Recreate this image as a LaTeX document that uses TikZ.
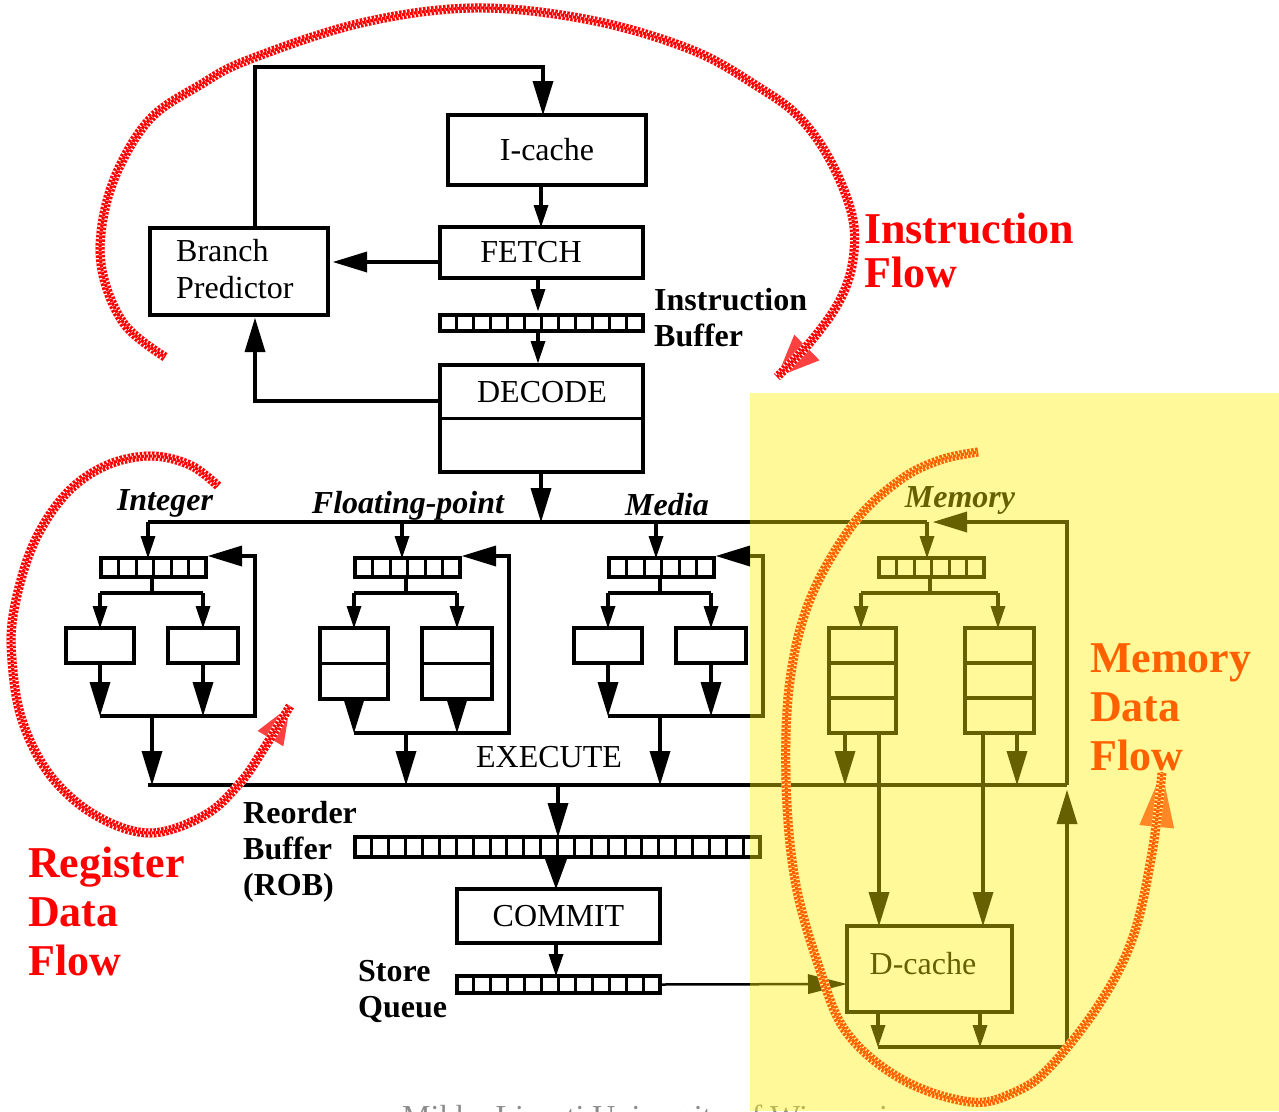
\documentclass[tikz,border=0pt]{standalone}
\usepackage{fontspec}
\setmainfont{Liberation Serif}
\usetikzlibrary{arrows.meta,calc}

\definecolor{flowred}{RGB}{255,0,0}
\definecolor{footgray}{RGB}{140,140,140}

% vertical dividers of a queue drawn as a row of cells
\newcommand\cellrow[2]{%
  \pgfmathtruncatemacro\cellcnt{#2-1}%
  \foreach \k in {1,...,\cellcnt}{%
    \draw[cellwire] ($(#1.north west)!{\k/#2}!(#1.north east)$) -- ($(#1.south west)!{\k/#2}!(#1.south east)$);}%
}
% horizontal dividers of a pipelined unit
\newcommand\cellstack[2]{%
  \ifnum#2>1
  \pgfmathtruncatemacro\cellcnt{#2-1}%
  \foreach \k in {1,...,\cellcnt}{%
    \draw[wire] ($(#1.north west)!{\k/#2}!(#1.south west)$) -- ($(#1.north east)!{\k/#2}!(#1.south east)$);}%
  \fi
}
% one issue queue with two functional units and a result loop
\newcommand\issuecluster[5]{%
  \begin{scope}[xshift=#2]
    \coordinate (#1in) at (148,522);
    \node[box, minimum width=105, minimum height=19] (#1q) at (153.5,567.5) {};
    \cellrow{#1q}{6}
    \coordinate (#1s) at (152,593);
    \coordinate (#1sl) at (100,593);
    \coordinate (#1sr) at (203,593);
    \node[box, minimum width=68, minimum height=#4, anchor=north] (#1ua) at (100,628) {};
    \node[box, minimum width=70, minimum height=#4, anchor=north] (#1ub) at (203,628) {};
    \cellstack{#1ua}{#3}
    \cellstack{#1ub}{#3}
    \coordinate (#1j) at (152,#5);
    \coordinate (#1jr) at (255,#5);
    \coordinate (#1fb) at (255,556);
    \coordinate (#1out) at (152,785);
    \draw[sa] (#1in) -- (#1in |- #1q.north);
    \draw[wire] (#1q.south -| #1s) -- (#1s);
    \draw[wire] (#1sl) -- (#1sr);
    \draw[sa] (#1sl) -- (#1ua.north);
    \draw[sa] (#1sr) -- (#1ub.north);
    \draw[la] (#1ua.south) -- (#1ua.south |- #1j);
    \draw[la] (#1ub.south) -- (#1ub.south |- #1j);
    \draw[la, shorten >=2pt] (#1ua.south |- #1j) -- (#1jr) -- (#1fb) -- (#1q.east |- #1fb);
    \draw[la] (#1j) -- (#1out);
  \end{scope}}

\begin{document}
\begin{tikzpicture}[x=1pt,y=-1pt,
  wire/.style={line width=3.5pt},
  cellwire/.style={line width=3pt},
  box/.style={draw, line width=3.5pt, rectangle, inner sep=0pt, outer sep=0pt,
    font=\fontsize{32}{36}\selectfont},
  sa/.style={wire, -{Triangle[length=22pt,width=15pt,line width=0pt]}},
  la/.style={wire, -{Triangle[length=34pt,width=21pt,line width=0pt]}},
  lbl/.style={inner sep=0pt, font=\fontsize{32}{37}\selectfont},
  blbl/.style={inner sep=0pt, align=left, font=\fontsize{32}{36}\selectfont\bfseries},
  ilbl/.style={inner sep=0pt, font=\fontsize{32}{36}\selectfont\bfseries\itshape},
  biglbl/.style={inner sep=0pt, align=left, text=red, font=\fontsize{44}{44}\selectfont\bfseries},
  % dithered red band: solid base with a two-row checker texture on top
  flowband/.style={line width=9pt, draw=flowred!75!white, line cap=butt, line join=round,
    postaction={-, draw=white, line width=9pt, line cap=butt},
    postaction={-, draw=flowred, line width=9pt, line cap=butt, dash pattern=on 2.5pt off 1.5pt},
    postaction={-, draw=white, line width=3pt, line cap=butt, dash pattern=on 1.5pt off 2.5pt, dash phase=2.5pt},
    postaction={-, draw=flowred, line width=3pt, line cap=butt, dash pattern=on 2.5pt off 1.5pt, dash phase=2pt}}]
\useasboundingbox (0,0) rectangle (1279,1111);
\begin{scope}
\clip (0,0) rectangle (1279,1111);
\fill[white] (0,0) rectangle (1279,1111);

% ---------- front end ----------
\node[box, minimum width=198, minimum height=70] (icache) at (547,150) {I-cache};
\node[box, minimum width=203, minimum height=51] (fetch) at (541.5,252.5) {};
\node[lbl] (tfetch) at (531,252.5) {FETCH};
\node[box, minimum width=178, minimum height=87] (bp) at (239,271.5) {};
\node[lbl, align=left, anchor=west] (tbp) at (176,269) {Branch\\Predictor};
\node[box, minimum width=203, minimum height=16] (ibuf) at (541.5,323) {};
\cellrow{ibuf}{12}
\node[blbl, anchor=west] (tibuf) at (654,318) {Instruction\\Buffer};
\node[box, minimum width=203, minimum height=107] (decode) at (541.5,418.5) {};
\draw[wire] (decode.west) -- (decode.east);
\node[lbl] (tdecode) at (542,392) {DECODE};

\coordinate (loopA) at (255,67);
\coordinate (loopB) at (543,67);
\coordinate (spine) at (541,0);
\coordinate (spineb) at (538,0);
\coordinate (fbk) at (0,262);
\coordinate (dbk) at (0,401);
\coordinate (dL) at (148,522);
\coordinate (dR) at (927,522);

\draw[la] (bp.north -| loopA) -- (loopA) -- (loopB) -- (loopB |- icache.north);
\draw[sa] (icache.south -| spine) -- (fetch.north -| spine);
\draw[la, shorten >=5pt] (fetch.west |- fbk) -- (bp.east |- fbk);
\draw[sa, shorten >=4pt] (fetch.south -| spineb) -- (ibuf.north -| spineb);
\draw[sa, shorten >=2pt] (ibuf.south -| spineb) -- (decode.north -| spineb);
\draw[la, shorten >=3pt] (decode.west |- dbk) -| (bp.south -| loopA);
\draw[la] (decode.south -| spine) -- (spine |- dL);

% ---------- dispatch and issue ----------
\draw[wire] (dL) -- (dR);
\issuecluster{int}{0}{1}{35}{716}
\issuecluster{fp}{254}{2}{71}{733}
\issuecluster{med}{508}{1}{35}{716}

\node[ilbl, anchor=base] (lint) at (165,510) {Integer};
\node[ilbl, anchor=base] (lfp) at (408,513) {Floating-point};
\node[ilbl, anchor=base] (lmed) at (667,515) {Media};
\node[ilbl, anchor=base] (lmem) at (960,507) {Memory};

% result bus
\coordinate (busL) at (148,785);
\coordinate (busR) at (1067,785);
\coordinate (mfb) at (1067,522);
\coordinate (mtip) at (933,522);
\draw[wire] (busL) -- (busR);
\draw[la] (busR) -- (mfb) -- (mtip);
\node[lbl] (texec) at (549,757) {EXECUTE};

% memory pipe
\coordinate (memin) at (927,522);
\node[box, minimum width=105, minimum height=19] (mq) at (931.5,567.5) {};
\cellrow{mq}{6}
\coordinate (ms) at (930,593);
\coordinate (msl) at (861,593);
\coordinate (msr) at (998,593);
\node[box, minimum width=67, minimum height=105, anchor=north] (mua) at (862.5,628) {};
\node[box, minimum width=69, minimum height=105, anchor=north] (mub) at (999.5,628) {};
\cellstack{mua}{3}
\cellstack{mub}{3}
\draw[sa] (memin) -- (memin |- mq.north);
\draw[wire] (mq.south -| ms) -- (ms);
\draw[wire] (msl) -- (msr);
\draw[sa] (msl) -- (msl |- mua.north);
\draw[sa] (msr) -- (msr |- mub.north);

\node[box, minimum width=165, minimum height=86] (dcache) at (929.5,969) {};
\node[lbl] (tdcache) at (923,964) {D-cache};
\coordinate (mo1) at (845,0);
\coordinate (md1) at (879,0);
\coordinate (md2) at (983,0);
\coordinate (mo2) at (1017,0);
\draw[la] (mua.south -| mo1) -- (mo1 |- busL);
\draw[la] (mua.south -| md1) -- (md1 |- dcache.north);
\draw[la] (mub.south -| md2) -- (md2 |- dcache.north);
\draw[la] (mub.south -| mo2) -- (mo2 |- busL);

\coordinate (dja) at (878,1047);
\coordinate (djb) at (980,1047);
\coordinate (djr) at (1067,1047);
\coordinate (dup) at (1067,790);
\draw[sa] (dcache.south -| dja) -- (dja);
\draw[sa] (dcache.south -| djb) -- (djb);
\draw[la] (dja) -- (djr) -- (dup);

% ---------- retire ----------
\coordinate (robin) at (558,785);
\coordinate (cx) at (556,0);
\node[box, minimum width=405, minimum height=20] (rob) at (557.5,847) {};
\cellrow{rob}{24}
\node[blbl, anchor=west] (trob) at (243,852) {Reorder\\Buffer\\(ROB)};
\node[box, minimum width=203, minimum height=54] (commit) at (558.5,916) {COMMIT};
\node[box, minimum width=203, minimum height=17] (sq) at (558.5,984.5) {};
\cellrow{sq}{12}
\node[blbl, anchor=west] (tsq) at (358,991) {Store\\Queue};
\draw[la] (robin) -- (robin |- rob.north);
\draw[wire, -{Triangle[length=30pt,width=22pt,line width=0pt]}] (rob.south -| cx) -- (commit.north -| cx);
\draw[sa] (commit.south -| cx) -- (sq.north -| cx);
\draw[line width=2.5pt, -{Triangle[length=39pt,width=20pt,line width=0pt]}] (sq.east) -- ($(dcache.west)+(0,15)$);

% ---------- flow arrows ----------
\draw[flowband, -{Triangle[length=42pt,width=36pt,line width=0pt]}] plot[smooth, tension=0.6] coordinates {(165,357) (125,325) (103,275) (102,225) (118,170) (151,118) (200,85) (248,60) (361,23) (475,8) (590,20) (692,50) (760,88) (799,117) (830,160) (852,215) (853,260) (840,300) (812,340) (777,377)};
\draw[flowband, -{Triangle[length=38pt,width=30pt,line width=0pt]}] plot[smooth, tension=0.6] coordinates {(218,486) (190,465) (150,456) (105,466) (65,495) (33,545) (14,610) (12,660) (22,720) (50,775) (95,815) (150,833) (205,815) (240,783) (263,750) (290,706)};
\draw[flowband, -{Triangle[length=55pt,width=35pt,line width=0pt]}] plot[smooth, tension=0.6] coordinates {(978,452) (940,460) (900,480) (854,523) (811,597) (790,680) (786,780) (795,880) (819,967) (847,1033) (903,1080) (971,1102) (1015,1092) (1050,1067) (1100,1003) (1133,937) (1152,853) (1162,772)};

\node[biglbl, anchor=west] (lif) at (864,250) {Instruction\\Flow};
\node[biglbl, anchor=west, font=\fontsize{44}{49}\selectfont\bfseries] (lrdf) at (28,911) {Register\\Data\\Flow};
\node[biglbl, anchor=west, font=\fontsize{44}{49}\selectfont\bfseries] (lmdf) at (1090,707) {Memory\\Data\\Flow};

\node[lbl, text=footgray, anchor=base west] (foot) at (402,1127) {Mikko Lipasti University of Wisconsin};

% memory side highlight
\fill[yellow, fill opacity=0.4] (750,393) rectangle (1279,1111);
\end{scope}
\end{tikzpicture}
\end{document}
